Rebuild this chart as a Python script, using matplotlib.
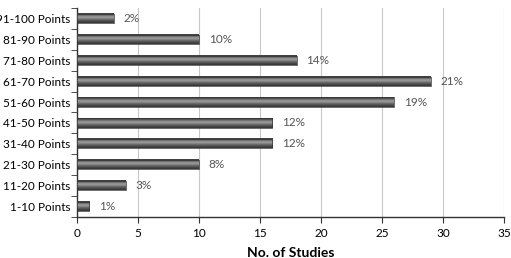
import numpy as np
import matplotlib.pyplot as plt

categories = ['1-10 Points', '11-20 Points', '21-30 Points', '31-40 Points', '41-50 Points',
              '51-60 Points', '61-70 Points', '71-80 Points', '81-90 Points', '91-100 Points']
studies = [1, 4, 10, 16, 16, 26, 29, 18, 10, 3]
pct_labels = ['1%', '3%', '8%', '12%', '12%', '19%', '21%', '14%', '10%', '2%']

plt.rcParams['font.family'] = ['Lato', 'DejaVu Sans']

fig = plt.figure(figsize=(5.11, 2.58), dpi=100)
ax = fig.add_axes([0.151, 0.159, 0.835, 0.81])

y = np.arange(len(categories))
h = 0.44

# vertical shading to mimic the 3D bar look
grad = np.array([0.25, 0.35, 0.55, 0.62, 0.5, 0.38, 0.3, 0.22]).reshape(-1, 1)
for yi, v in zip(y, studies):
    ax.imshow(grad, cmap='gray', vmin=0, vmax=1, aspect='auto',
              extent=(0, v, yi - h / 2, yi + h / 2), zorder=3, interpolation='bicubic')
    ax.barh(yi, v, height=h, color='none', edgecolor='#333333', linewidth=0.5, zorder=4)
    ax.text(v + 0.8, yi, pct_labels[yi], va='center', ha='left', fontsize=8.5, color='#555555')

ax.set_xlim(0, 35)
ax.set_ylim(-0.5, 9.5)
ax.set_xticks(range(0, 36, 5))
ax.set_yticks(y)
ax.set_yticklabels(categories, fontsize=8.5)
ax.set_yticks(np.arange(-0.5, 10, 1), minor=True)
ax.tick_params(axis='y', which='major', length=0, pad=5)
ax.tick_params(axis='y', which='minor', length=4, direction='out', color='#333333')
ax.tick_params(axis='x', length=4, direction='out', color='#333333', labelsize=8.5, pad=4)
ax.grid(axis='x', color='#c8c8c8', linewidth=0.8, zorder=0)
ax.set_axisbelow(True)
for s in ['top', 'right']:
    ax.spines[s].set_visible(False)
for s in ['left', 'bottom']:
    ax.spines[s].set_color('#333333')
    ax.spines[s].set_linewidth(1)
ax.set_xlabel('No. of Studies', fontsize=10, fontweight='bold', labelpad=6)

fig.savefig('out.png', dpi=100)
